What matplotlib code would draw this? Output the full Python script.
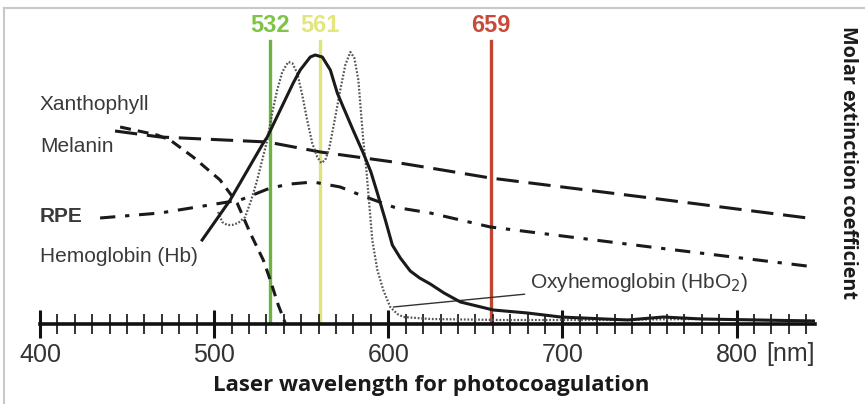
import numpy as np
import matplotlib
matplotlib.use('Agg')
import matplotlib.pyplot as plt
from matplotlib.lines import Line2D

# ── data (wavelength in nm, relative absorption in arbitrary units) ──
xanth_nm = [446, 467.2, 474.7, 487.9, 503.4, 513.2, 520.7, 528.2, 532.2, 536.8, 540.8]
xanth_val = [197, 189, 184, 167, 144, 121, 91, 64, 44, 19, 1]

melanin_nm = [443.1, 469, 530.5, 561, 602.9, 624.1, 658.6, 750.6, 840.8]
melanin_val = [193, 187, 182, 172, 162, 156, 146, 126, 106]

rpe_nm = [434.5, 469, 515, 532.2, 543.7, 556.9, 572.4, 583.9, 602.9, 624.1, 658.6, 750.6, 845]
rpe_val = [106, 111, 124, 136, 140, 142, 137, 129, 117, 111, 97, 77, 57]

hb_nm = [493.1, 509.2, 528.2, 530.5, 545.4, 549.4, 555.2, 558, 562.1, 566.7, 570.7,
         574.1, 580, 585.6, 590, 593.7, 598.3, 602.3, 606.9, 612.6, 618, 624.1, 632,
         641.4, 660.3, 679.9, 698.9, 737.4, 758, 780, 845]
hb_val = [84, 124, 181, 187, 241, 254, 267, 269, 267, 254, 231,
          217, 193, 171, 152, 131, 104, 79, 66, 53, 46, 40, 31,
          22, 14, 11, 7, 4, 7, 5, 3]

hbo2_nm = [502.3, 504.6, 507.5, 510.3, 513.8, 517.8, 521.3, 524.7, 527.6, 530.5, 533.3,
           536.2, 539.1, 542.5, 544.8, 547.7, 550.6, 553.4, 556.3, 559.2, 561.5, 563.8,
           566.1, 569, 572.4, 575.3, 578.2, 580.5, 582.8, 585.6, 587.4, 589.1, 590.8,
           593.7, 597.1, 601.1, 605.2, 608.6, 624.1, 664.4, 721.8, 779.3, 845]
hbo2_val = [112, 102, 99, 99, 101, 107, 124, 144, 164, 184, 211,
            234, 252, 262, 261, 251, 229, 204, 181, 167, 161, 164,
            176, 202, 234, 259, 272, 266, 244, 184, 154, 119, 84,
            54, 34, 17, 10, 7, 5, 4, 4, 5, 3]

laser_nm = [532, 561, 659]
laser_colors = ['#6cb33f', '#dde57a', '#c0462f']
laser_text_colors = ['#80c445', '#e2e67c', '#c94a3a']

tick_nm = [400, 500, 600, 700, 800]
tick_labels = ['400', '500', '600', '700', '800']

W, H = 865, 404
fig = plt.figure(figsize=(W / 100, H / 100), dpi=100)
ax = fig.add_axes([40 / W, (H - 324) / H, 775 / W, 324 / H])
ax.set_xlim(400, 845)
ax.set_ylim(0, 324)
for s in ['top', 'left', 'right']:
    ax.spines[s].set_visible(False)
ax.spines['bottom'].set_linewidth(2.6)
ax.spines['bottom'].set_color('#111111')
ax.set_yticks([])

ax.set_xticks(tick_nm)
ax.set_xticklabels(tick_labels)
ax.set_xticks(np.arange(410, 846, 10), minor=True)
ax.tick_params(axis='x', which='major', direction='inout', length=20, width=2.2,
               color='#111111', pad=4, labelsize=18, labelcolor='#333333')
ax.tick_params(axis='x', which='minor', direction='inout', length=14, width=1.3,
               color='#222222')
for lab in ax.get_xticklabels():
    lab.set_fontfamily('Liberation Sans')
ax.annotate('[nm]', xy=(800, 0), xycoords=('data', 'axes fraction'),
            xytext=(21, -13), textcoords='offset points', ha='left', va='top',
            fontsize=18, color='#333333', family='Liberation Sans')

# ── laser lines ──
for nm, c, tc in zip(laser_nm, laser_colors, laser_text_colors):
    ax.axvline(nm, ymin=0, ymax=283 / 324, color=c, lw=2.4, zorder=1)
    ax.text(nm, 299, str(nm), color=tc, ha='center', va='center', fontsize=17,
            fontweight='bold', family='Liberation Sans')

# ── spectra ──
k = '#1a1a1a'
ax.plot(xanth_nm, xanth_val, color=k, lw=2.2, dashes=(3.6, 2.3), zorder=3)
ax.plot(melanin_nm, melanin_val, color=k, lw=2.2, dashes=(7.3, 3.2), zorder=3)
ax.plot(rpe_nm, rpe_val, color=k, lw=2.2, dashes=(5, 3.2, 1.4, 3.2), zorder=3)
ax.plot(hb_nm, hb_val, color=k, lw=2.2, zorder=4)
ax.plot(hbo2_nm, hbo2_val, color='#555555', lw=1.6, dashes=(0.8, 0.8), zorder=3)

# ── labels ──
lab_kw = dict(ha='left', va='center', fontsize=15, color='#3a3a3a', family='Liberation Sans')
ax.text(400, 220, 'Xanthophyll', **lab_kw)
ax.text(400, 177, 'Melanin', **lab_kw)
ax.text(400, 107, 'RPE', fontweight='bold', **lab_kw)
ax.text(400, 67, 'Hemoglobin (Hb)', **lab_kw)
ax.annotate('Oxyhemoglobin (HbO$_2$)', xy=(602.9, 17), xytext=(681.5, 41),
            ha='left', va='center', fontsize=15, color='#3a3a3a', family='Liberation Sans',
            arrowprops=dict(arrowstyle='-', color='#333333', lw=1.0, shrinkA=2, shrinkB=0))

fig.text(431 / W, 1 - 385 / H, 'Laser wavelength for photocoagulation', ha='center',
         va='center', fontsize=16, fontweight='bold', family='Open Sans', color='#1a1a1a')
fig.text(848 / W, 1 - 162 / H, 'Molar extinction coefficient', ha='center', va='center',
         rotation=-90, fontsize=14.2, fontweight='bold', family='Open Sans', color='#1a1a1a')

# light frame, top and left
fig.add_artist(Line2D([4 / W, 1], [1 - 8 / H, 1 - 8 / H], transform=fig.transFigure,
                      color='#c8c8c8', lw=1.5))
fig.add_artist(Line2D([4 / W, 4 / W], [0, 1 - 8 / H], transform=fig.transFigure,
                      color='#c8c8c8', lw=1.5))

fig.savefig('out.png', dpi=100)
